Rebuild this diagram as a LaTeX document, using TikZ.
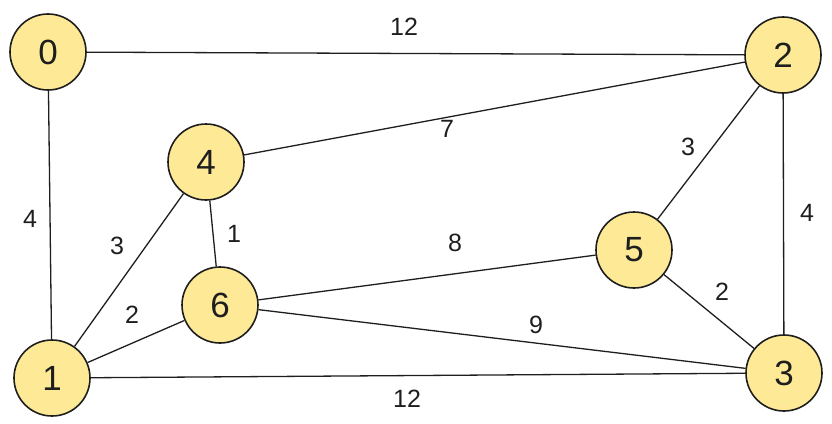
\documentclass[tikz,border=0pt]{standalone}
\usepackage{fontspec}
\setmainfont{Liberation Sans}
\usetikzlibrary{backgrounds}
\definecolor{nodefill}{RGB}{254,234,150}
\definecolor{ink}{RGB}{30,30,30}
\begin{document}
\begin{tikzpicture}[x=1pt,y=-1pt,
  vertex/.style={circle,draw=ink,line width=1.6pt,fill=nodefill,minimum size=76pt,inner sep=0pt,font=\fontsize{35}{35}\selectfont,text=ink},
  edge/.style={draw=ink,line width=1.3pt},
  wlabel/.style={font=\fontsize{25}{25}\selectfont,text=ink,inner sep=0pt}]
\useasboundingbox (0,0) rectangle (832,423);
\node[vertex] (n0) at (48,52) {0};
\node[vertex] (n2) at (783,55) {2};
\node[vertex] (n4) at (206,162) {4};
\node[vertex] (n6) at (220,305) {6};
\node[vertex] (n5) at (634,250) {5};
\node[vertex] (n1) at (52,378) {1};
\node[vertex] (n3) at (784,373) {3};
\begin{scope}[on background layer]
\path[edge] (n0) -- (n2);
\path[edge] (n0) -- (n1);
\path[edge] (n1) -- (n3);
\path[edge] (n2) -- (n3);
\path[edge] (n2) -- (n4);
\path[edge] (n2) -- (n5);
\path[edge] (n4) -- (n1);
\path[edge] (n4) -- (n6);
\path[edge] (n6) -- (n1);
\path[edge] (n6) -- (n5);
\path[edge] (n6) -- (n3);
\path[edge] (n5) -- (n3);
\end{scope}
\node[wlabel] (w02) at (404,27) {12};
\node[wlabel] (w24) at (447,129) {7};
\node[wlabel] (w25) at (688,147) {3};
\node[wlabel] (w23) at (807,213) {4};
\node[wlabel] (w01) at (30,219) {4};
\node[wlabel] (w14) at (117,246) {3};
\node[wlabel] (w46) at (234,234) {1};
\node[wlabel] (w65) at (455,243) {8};
\node[wlabel] (w53) at (722,292) {2};
\node[wlabel] (w16) at (132,315) {2};
\node[wlabel] (w63) at (536,325) {9};
\node[wlabel] (w13) at (407,399) {12};
\end{tikzpicture}
\end{document}
